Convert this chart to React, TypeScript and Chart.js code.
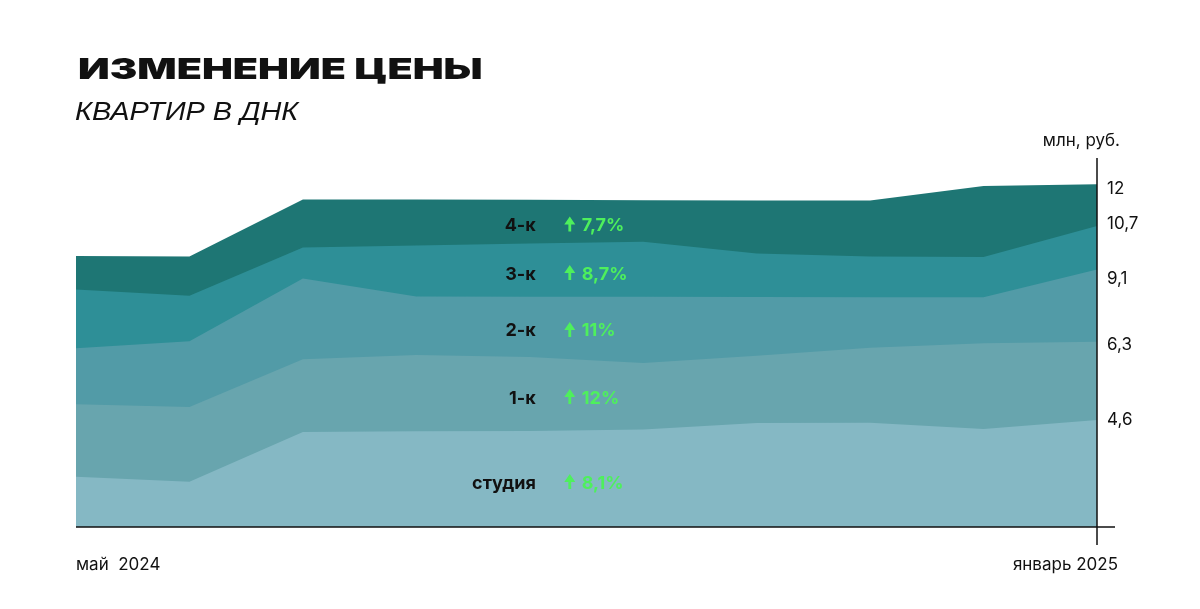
import { useEffect, useRef } from "react";
import Chart from "chart.js/auto";

// периоды: от мая 2024 до января 2025, подписаны только края
const periods = ["май  2024", "", "", "", "", "", "", "", "", "январь 2025"];

// верхняя граница каждого слоя (условные единицы)
const studioLevel = [1.76, 1.58, 3.33, 3.35, 3.36, 3.41, 3.64, 3.65, 3.43, 3.75];
const oneRoomLevel = [4.3, 4.2, 5.87, 6.02, 5.95, 5.74, 6.0, 6.28, 6.43, 6.49];
const twoRoomLevel = [6.26, 6.5, 8.7, 8.07, 8.06, 8.06, 8.05, 8.04, 8.04, 9.02];
const threeRoomLevel = [8.32, 8.1, 9.79, 9.86, 9.93, 9.99, 9.58, 9.47, 9.45, 10.54];
const fourRoomLevel = [9.49, 9.47, 11.47, 11.47, 11.46, 11.44, 11.43, 11.43, 11.94, 12.0];

const series = ["студия", "1-к", "2-к", "3-к", "4-к"];
const growth = ["8,1%", "12%", "11%", "8,7%", "7,7%"];

// подписи цены справа (млн руб.)
const tickPositions = [3.75, 6.37, 8.7, 10.6, 11.84];
const tickLabels = ["4,6", "6,3", "9,1", "10,7", "12"];

const colors = ["#85b8c4", "#68a5ae", "#529ba7", "#2e8f97", "#1e7674"];
const green = "#4ef05c";
const ink = "#111111";

const decorations = {
    id: "decorations",
    afterDraw(chart: any) {
        const { ctx, chartArea, scales } = chart;
        const x = scales.x;
        const y = scales.y;
        const y0 = y.getPixelForValue(0);
        ctx.save();

        // оси
        ctx.strokeStyle = ink;
        ctx.lineWidth = 1.5;
        ctx.beginPath();
        ctx.moveTo(chartArea.left, y0);
        ctx.lineTo(chartArea.right + 18, y0);
        ctx.moveTo(chartArea.right, chartArea.top);
        ctx.lineTo(chartArea.right, y0 + 18);
        ctx.stroke();

        // подписи осей
        ctx.fillStyle = ink;
        ctx.font = "17px Inter";
        ctx.textBaseline = "alphabetic";
        ctx.textAlign = "right";
        ctx.fillText("млн, руб.", chartArea.right + 23, chartArea.top - 12);
        ctx.textAlign = "left";
        ctx.fillText(periods[0], x.getPixelForValue(0), y0 + 43);
        ctx.textAlign = "right";
        ctx.fillText(periods[periods.length - 1], x.getPixelForValue(periods.length - 1) + 21, y0 + 43);

        // подписи слоёв
        const levels = chart.data.datasets.map((d: any) => d.data);
        const at = 4;
        const ax = x.getPixelForValue(at);
        levels.forEach((lv: number[], i: number) => {
            const lower = i === 0 ? 0 : levels[i - 1][at];
            const mid = y.getPixelForValue((lower + lv[at]) / 2) + 3;
            const base = mid + 6.5;
            ctx.font = "bold 18px Inter";
            ctx.fillStyle = ink;
            ctx.textAlign = "right";
            ctx.fillText(series[i], ax + 6, base);

            // стрелка
            const cx = ax + 40;
            ctx.fillStyle = green;
            ctx.beginPath();
            ctx.moveTo(cx, mid - 8);
            ctx.lineTo(cx + 5.5, mid);
            ctx.lineTo(cx + 1.4, mid);
            ctx.lineTo(cx + 1.4, mid + 7);
            ctx.lineTo(cx - 1.4, mid + 7);
            ctx.lineTo(cx - 1.4, mid);
            ctx.lineTo(cx - 5.5, mid);
            ctx.closePath();
            ctx.fill();

            ctx.textAlign = "left";
            ctx.fillText(growth[i], ax + 52, base);
        });
        ctx.restore();
    },
};

export const PriceChart = () => {
    const canvasRef: any = useRef(null);
    const titleRef: any = useRef(null);
    const subRef: any = useRef(null);

    useEffect(() => {
        document.body.style.margin = "0";
        titleRef.current.style.transform = `scaleX(${405 / titleRef.current.offsetWidth})`;
        subRef.current.style.transform = `scaleX(${223 / subRef.current.offsetWidth})`;

        const ctx = canvasRef.current.getContext("2d");
        const levels = [studioLevel, oneRoomLevel, twoRoomLevel, threeRoomLevel, fourRoomLevel];
        const myChart = new Chart(ctx, {
            type: "line",
            data: {
                labels: periods,
                datasets: levels.map((data, i) => ({
                    label: series[i],
                    data,
                    backgroundColor: colors[i],
                    borderColor: "rgba(0,0,0,0)",
                    borderWidth: 0,
                    pointRadius: 0,
                    tension: 0,
                    fill: "origin",
                })),
            },
            options: {
                animation: false,
                responsive: false,
                layout: { padding: { left: 76, right: 43, top: 158, bottom: 82 } },
                plugins: {
                    legend: { display: false },
                    tooltip: { enabled: false },
                },
                scales: {
                    x: { display: false },
                    y: {
                        position: "right",
                        min: 0,
                        max: 12.92,
                        grid: { display: false, drawTicks: false },
                        border: { display: false },
                        afterFit: (s: any) => {
                            s.width = 60;
                        },
                        afterBuildTicks: (s: any) => {
                            s.ticks = tickPositions.map((v) => ({ value: v }));
                        },
                        ticks: {
                            padding: 10,
                            color: ink,
                            font: { family: "Inter", size: 17 },
                            callback: (v: any) => {
                                const i = tickPositions.indexOf(v);
                                return i >= 0 ? tickLabels[i] : "";
                            },
                        },
                    },
                },
            },
            plugins: [decorations],
        });

        return () => {
            myChart.destroy();
        };
    }, []);

    return (
        <div style={{ position: "relative", width: 1200, height: 609, background: "#fff" }}>
            <canvas ref={canvasRef} width={1200} height={609} style={{ width: 1200, height: 609 }}></canvas>
            <div
                ref={titleRef}
                style={{
                    position: "absolute",
                    left: 78,
                    top: 54,
                    fontFamily: "Inter",
                    fontWeight: 900,
                    fontSize: 29,
                    lineHeight: "29px",
                    whiteSpace: "nowrap",
                    transformOrigin: "left top",
                    color: ink,
                }}
            >
                ИЗМЕНЕНИЕ ЦЕНЫ
            </div>
            <div
                ref={subRef}
                style={{
                    position: "absolute",
                    left: 75,
                    top: 99,
                    font: "italic 25px 'Liberation Sans'",
                    lineHeight: "25px",
                    whiteSpace: "nowrap",
                    transformOrigin: "left top",
                    color: ink,
                }}
            >
                КВАРТИР В ДНК
            </div>
        </div>
    );
};

export default PriceChart;
